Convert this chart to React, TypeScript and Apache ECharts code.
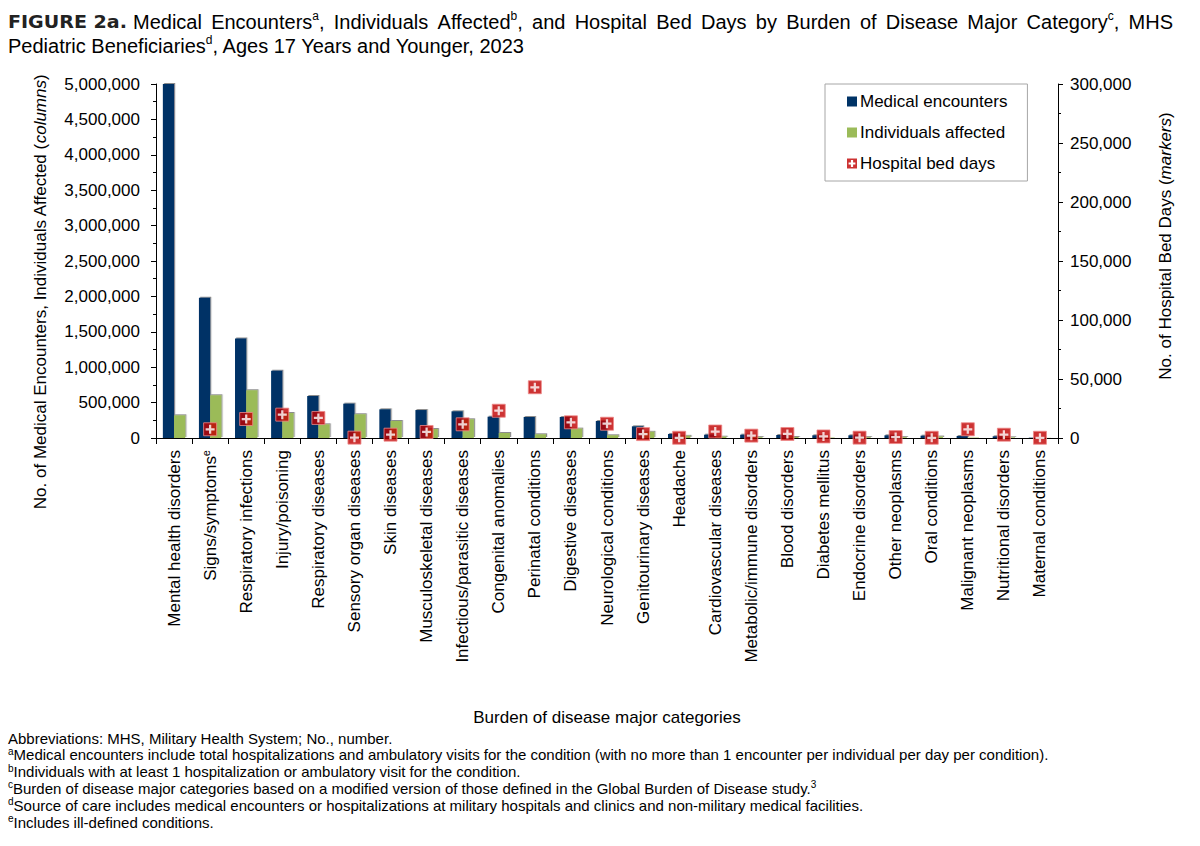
import React, { useEffect, useRef } from "react";
import * as echarts from "echarts";

const categories = [
  "Mental health disorders",
  "Signs/symptoms",
  "Respiratory infections",
  "Injury/poisoning",
  "Respiratory diseases",
  "Sensory organ diseases",
  "Skin diseases",
  "Musculoskeletal diseases",
  "Infectious/parasitic diseases",
  "Congenital anomalies",
  "Perinatal conditions",
  "Digestive diseases",
  "Neurological conditions",
  "Genitourinary diseases",
  "Headache",
  "Cardiovascular diseases",
  "Metabolic/immune disorders",
  "Blood disorders",
  "Diabetes mellitus",
  "Endocrine disorders",
  "Other neoplasms",
  "Oral conditions",
  "Malignant neoplasms",
  "Nutritional disorders",
  "Maternal conditions",
];
const categorySuperscripts: Record<string, string> = { "Signs/symptoms": "e" };

const medicalEncounters = [
  5000000, 1980000, 1405000, 950000, 593000, 485000, 405000, 395000, 377000,
  301000, 297000, 297000, 240000, 165000, 57000, 47000, 47000, 42000, 38000,
  38000, 38000, 33000, 28000, 24000, 5000,
];
const individualsAffected = [
  320000, 603000, 674000, 353000, 193000, 335000, 240000, 127000, 264000,
  71000, 52000, 132000, 38000, 87000, 30000, 18000, 12000, 14000, 6000, 12000,
  12000, 20000, 6000, 9000, 2000,
];
const hospitalBedDays = [
  null, 7400, 16100, 19800, 17000, 300, 2800, 5100, 11600, 23100, 43000, 13300,
  12100, 3300, 200, 5500, 2000, 3400, 1300, 300, 800, 200, 7400, 2800, 200,
];

const leftAxisMax = 5000000;
const leftAxisInterval = 500000;
const rightAxisMax = 300000;
const rightAxisInterval = 50000;

const seriesNames = ["Medical encounters", "Individuals affected", "Hospital bed days"];

const titleLead = "FIGURE 2a.";
const titleLine1Words: [string, string, string][] = [
  ["Medical", "", ""],
  ["Encounters", "a", ","],
  ["Individuals", "", ""],
  ["Affected", "b", ","],
  ["and", "", ""],
  ["Hospital", "", ""],
  ["Bed", "", ""],
  ["Days", "", ""],
  ["by", "", ""],
  ["Burden", "", ""],
  ["of", "", ""],
  ["Disease", "", ""],
  ["Major", "", ""],
  ["Category", "c", ","],
  ["MHS", "", ""],
];
const titleLine2: [string, string, string] = ["Pediatric Beneficiaries", "d", ", Ages 17 Years and Younger, 2023"];

const footnotes: [string, string, string][] = [
  ["", "Abbreviations: MHS, Military Health System; No., number.", ""],
  ["a", "Medical encounters include total hospitalizations and ambulatory visits for the condition (with no more than 1 encounter per individual per day per condition).", ""],
  ["b", "Individuals with at least 1 hospitalization or ambulatory visit for the condition.", ""],
  ["c", "Burden of disease major categories based on a modified version of those defined in the Global Burden of Disease study.", "3"],
  ["d", "Source of care includes medical encounters or hospitalizations at military hospitals and clinics and non-military medical facilities.", ""],
  ["e", "Includes ill-defined conditions.", ""],
];

const FONT = '"Liberation Sans", Arial, sans-serif';
const NAVY = "#003366";
const GREEN = "#9bbb59";
const RED = "#c00000";

let measureCtx: CanvasRenderingContext2D | null = null;
function textWidth(text: string, font: string): number {
  if (!text) return 0;
  if (!measureCtx) measureCtx = document.createElement("canvas").getContext("2d");
  measureCtx!.font = font;
  return measureCtx!.measureText(text).width;
}

function richWord(main: string, sup: string, tail: string) {
  let s = "";
  if (main) s += `{t|${main}}`;
  if (sup) s += `{s|${sup}}`;
  if (tail) s += `{t|${tail}}`;
  return s;
}

export default function App() {
  const ref = useRef<HTMLDivElement>(null);

  useEffect(() => {
    if (!ref.current) return;
    const chart = echarts.init(ref.current, null, { renderer: "svg" });

    const titleSize = 20;
    const supSize = 12;
    const titleFont = `${titleSize}px "Liberation Sans"`;
    const supFont = `${supSize}px "Liberation Sans"`;
    const titleRich = {
      t: { fontSize: titleSize, fontFamily: FONT, lineHeight: 24, color: "#000" },
      s: { fontSize: supSize, fontFamily: FONT, lineHeight: 12, verticalAlign: "top", color: "#000" },
    };

    // justify line 1
    const startX = 133;
    const endX = 1173;
    const widths = titleLine1Words.map(([m, s, t]) => textWidth(m, titleFont) + textWidth(s, supFont) + textWidth(t, titleFont));
    const total = widths.reduce((a, b) => a + b, 0);
    const gap = (endX - startX - total) / (titleLine1Words.length - 1);
    let cx = startX;
    const titleElems: any[] = titleLine1Words.map(([m, s, t], i) => {
      const el = {
        type: "text",
        x: cx,
        y: 22,
        style: {
          text: richWord(m, s, t),
          rich: titleRich,
          align: "left",
          verticalAlign: "middle",
          textAlign: "left",
          textVerticalAlign: "middle",
        },
      };
      cx += widths[i] + gap;
      return el;
    });

    const leadFont = 'bold 17px "DejaVu Sans Condensed"';
    const leadW = textWidth(titleLead, leadFont) || 100;
    titleElems.push({
      type: "text",
      x: 8,
      y: 22,
      scaleX: 119 / leadW,
      style: {
        text: titleLead,
        font: leadFont,
        fill: "#222",
        align: "left",
        verticalAlign: "middle",
        textAlign: "left",
        textVerticalAlign: "middle",
      },
    });
    titleElems.push({
      type: "text",
      x: 8,
      y: 46,
      style: {
        text: richWord(titleLine2[0], titleLine2[1], titleLine2[2]),
        rich: titleRich,
        align: "left",
        verticalAlign: "middle",
        textAlign: "left",
        textVerticalAlign: "middle",
      },
    });

    const axisNameRich = {
      n: { fontSize: 17, fontFamily: FONT, color: "#000" },
      i: { fontSize: 17, fontFamily: FONT, fontStyle: "italic", color: "#000" },
    };
    const axisNames = [
      {
        type: "text",
        x: 40,
        y: 292,
        rotation: Math.PI / 2,
        style: {
          text: "{n|No. of Medical Encounters, Individuals Affected (}{i|columns}{n|)}",
          rich: axisNameRich,
          align: "center",
          verticalAlign: "middle",
          textAlign: "center",
          textVerticalAlign: "middle",
        },
      },
      {
        type: "text",
        x: 1165,
        y: 246,
        rotation: Math.PI / 2,
        style: {
          text: "{n|No. of Hospital Bed Days (}{i|markers}{n|)}",
          rich: axisNameRich,
          align: "center",
          verticalAlign: "middle",
          textAlign: "center",
          textVerticalAlign: "middle",
        },
      },
    ];

    const footRich = {
      t: { fontSize: 15, fontFamily: FONT, lineHeight: 17, color: "#000" },
      s: { fontSize: 10, fontFamily: FONT, lineHeight: 10, verticalAlign: "top", color: "#000" },
    };
    const footElems = footnotes.map(([pre, main, post], i) => ({
      type: "text",
      x: 8,
      y: 738 + i * 16.8,
      style: {
        text: (pre ? `{s|${pre}}` : "") + `{t|${main}}` + (post ? `{s|${post}}` : ""),
        rich: footRich,
        align: "left",
        verticalAlign: "middle",
        textAlign: "left",
        textVerticalAlign: "middle",
      },
    }));

    const barShadow = {
      shadowColor: "rgba(0,0,0,0.45)",
      shadowBlur: 1,
      shadowOffsetX: 1.2,
      shadowOffsetY: -1,
    };

    const crossPath = "path://M3.75,0H6.25V3.75H10V6.25H6.25V10H3.75V6.25H0V3.75H3.75Z";
    const legendCross = "path://M0,0H10V10H0Z M3.9,1.6V3.9H1.6V6.1H3.9V8.4H6.1V6.1H8.4V3.9H6.1V1.6Z";

    const fmt = (v: number) => Number(v).toLocaleString("en-US");

    const option: any = {
      animation: false,
      backgroundColor: "#fff",
      textStyle: { fontFamily: FONT },
      grid: { left: 156, right: 142, top: 84, bottom: 408, containLabel: false },
      legend: {
        orient: "vertical",
        left: 825,
        top: 84,
        padding: [9, 20, 9, 22],
        itemGap: 14,
        itemWidth: 10,
        itemHeight: 10,
        borderColor: "#a6a6a6",
        borderWidth: 1,
        backgroundColor: "#fff",
        textStyle: { fontSize: 17, fontFamily: FONT, color: "#000", padding: [0, 0, 0, -2] },
        data: [
          { name: seriesNames[0], icon: "rect", itemStyle: { shadowBlur: 0, shadowOffsetX: 0, shadowOffsetY: 0 } },
          { name: seriesNames[1], icon: "rect", itemStyle: { shadowBlur: 0, shadowOffsetX: 0, shadowOffsetY: 0 } },
          { name: seriesNames[2], icon: legendCross, itemStyle: { color: RED, borderWidth: 0 } },
        ],
      },
      xAxis: {
        type: "category",
        data: categories,
        name: "Burden of disease major categories",
        nameLocation: "middle",
        nameGap: 271,
        nameTextStyle: { fontSize: 17, fontFamily: FONT, color: "#000" },
        axisLine: { show: true, lineStyle: { color: "#000", width: 1 } },
        axisTick: { show: true, interval: 0, length: 6, lineStyle: { color: "#000" } },
        axisLabel: {
          interval: 0,
          rotate: 90,
          margin: 12,
          color: "#000",
          formatter: (v: string) => {
            const sup = categorySuperscripts[v];
            return sup ? `{t|${v}}{s|${sup}}` : `{t|${v}}`;
          },
          rich: {
            t: { fontSize: 17, fontFamily: FONT, lineHeight: 20, color: "#000" },
            s: { fontSize: 11, fontFamily: FONT, lineHeight: 11, verticalAlign: "top", color: "#000" },
          },
        },
        splitLine: { show: false },
      },
      yAxis: [
        {
          type: "value",
          min: 0,
          max: leftAxisMax,
          interval: leftAxisInterval,
          axisLine: { show: true, lineStyle: { color: "#000", width: 1 } },
          axisTick: { show: true, length: 5, lineStyle: { color: "#000" } },
          minorTick: { show: true, splitNumber: 2, length: 3, lineStyle: { color: "#000" } },
          axisLabel: { fontSize: 17, fontFamily: FONT, color: "#000", margin: 16, formatter: fmt },
          splitLine: { show: false },
        },
        {
          type: "value",
          min: 0,
          max: rightAxisMax,
          interval: rightAxisInterval,
          position: "right",
          axisLine: { show: true, lineStyle: { color: "#000", width: 1 } },
          axisTick: { show: true, length: 5, lineStyle: { color: "#000" } },
          minorTick: { show: true, splitNumber: 2, length: 3, lineStyle: { color: "#000" } },
          axisLabel: { fontSize: 17, fontFamily: FONT, color: "#000", margin: 12, formatter: fmt },
          splitLine: { show: false },
        },
      ],
      series: [
        {
          name: seriesNames[0],
          type: "bar",
          data: medicalEncounters,
          barGap: "0%",
          barCategoryGap: "38%",
          itemStyle: { color: NAVY, ...barShadow },
          z: 2,
        },
        {
          name: seriesNames[1],
          type: "bar",
          data: individualsAffected,
          barGap: "0%",
          barCategoryGap: "38%",
          itemStyle: { color: GREEN, ...barShadow },
          z: 2,
        },
        {
          name: seriesNames[2],
          type: "scatter",
          yAxisIndex: 1,
          data: hospitalBedDays,
          symbol: "rect",
          symbolSize: 13,
          itemStyle: { color: RED, borderColor: "#ee8888", borderWidth: 1 },
          z: 3,
        },
        {
          name: "bedDaysCross",
          type: "scatter",
          yAxisIndex: 1,
          data: hospitalBedDays,
          symbol: crossPath,
          symbolSize: 9,
          silent: true,
          itemStyle: { color: "#ffffff" },
          z: 4,
        },
      ],
      graphic: [...titleElems, ...axisNames, ...footElems],
    };

    chart.setOption(option);
    return () => chart.dispose();
  }, []);

  return (
    <div
      ref={ref}
      style={{ position: "absolute", left: 0, top: 0, width: 1200, height: 846, background: "#fff" }}
    />
  );
}
